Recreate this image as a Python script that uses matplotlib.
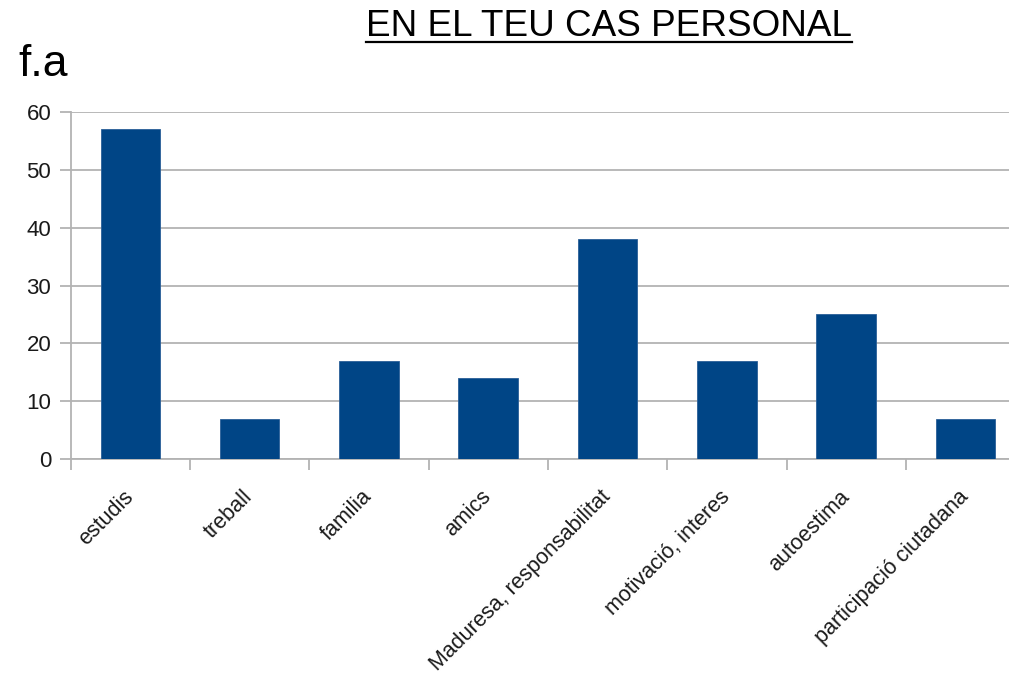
import matplotlib
matplotlib.use("Agg")
import matplotlib.pyplot as plt
from matplotlib.lines import Line2D
import numpy as np

categories = ["estudis", "treball", "familia", "amics", "Maduresa, responsabilitat",
              "motivació, interes", "autoestima", "participació ciutadana"]
values = [57, 7, 17, 14, 38, 17, 25, 7]
yticks = [0, 10, 20, 30, 40, 50, 60]
title = "EN EL TEU CAS PERSONAL"
corner_label = "f.a"

plt.rcParams['font.family'] = ['Liberation Sans', 'DejaVu Sans']

W, H = 1009, 679
fig = plt.figure(figsize=(W / 100, H / 100), dpi=100)
ax = fig.add_axes([70.7 / W, (H - 459) / H, 954.4 / W, 347 / H])

n = len(categories)
x = np.arange(n) + 0.5
ax.bar(x, values, width=0.5, color='#004586', edgecolor='#2a5f98', linewidth=0.6, zorder=3)

ax.set_xlim(0, n)
ax.set_ylim(0, 60)
ax.set_yticks(yticks)
ax.set_yticklabels([str(v) for v in yticks])
ax.yaxis.grid(True, color='#b3b3b3', linewidth=1.3, zorder=0)
ax.set_axisbelow(True)

ax.set_xticks(np.arange(n + 1))
ax.set_xticklabels([])
ax.set_xticks(x, minor=True)
ax.set_xticklabels(categories, minor=True, rotation=45, ha='right', va='center',
                   rotation_mode='anchor', fontsize=15.5, color='#1a1a1a')
ax.tick_params(axis='x', which='minor', length=0, pad=25)
ax.tick_params(axis='x', which='major', length=8, width=1.3, color='#b3b3b3')
ax.tick_params(axis='y', length=8, width=1.3, color='#b3b3b3', pad=6,
               labelsize=16, labelcolor='#1a1a1a')

for s in ['top', 'right']:
    ax.spines[s].set_visible(False)
for s in ['left', 'bottom']:
    ax.spines[s].set_color('#b3b3b3')
    ax.spines[s].set_linewidth(1.3)

t = fig.text(609 / W, 1 - 36 / H, title, ha='center', va='baseline', fontsize=26.6, color='black')
fig.text(18 / W, 1 - 76 / H, corner_label, ha='left', va='baseline', fontsize=32, color='black')

fig.canvas.draw()
bb = t.get_window_extent()
uy = 1 - 41.5 / H
fig.add_artist(Line2D([bb.x0 / W, bb.x1 / W], [uy, uy], transform=fig.transFigure,
                      color='black', linewidth=1.6))

fig.savefig("out.png", dpi=100)
